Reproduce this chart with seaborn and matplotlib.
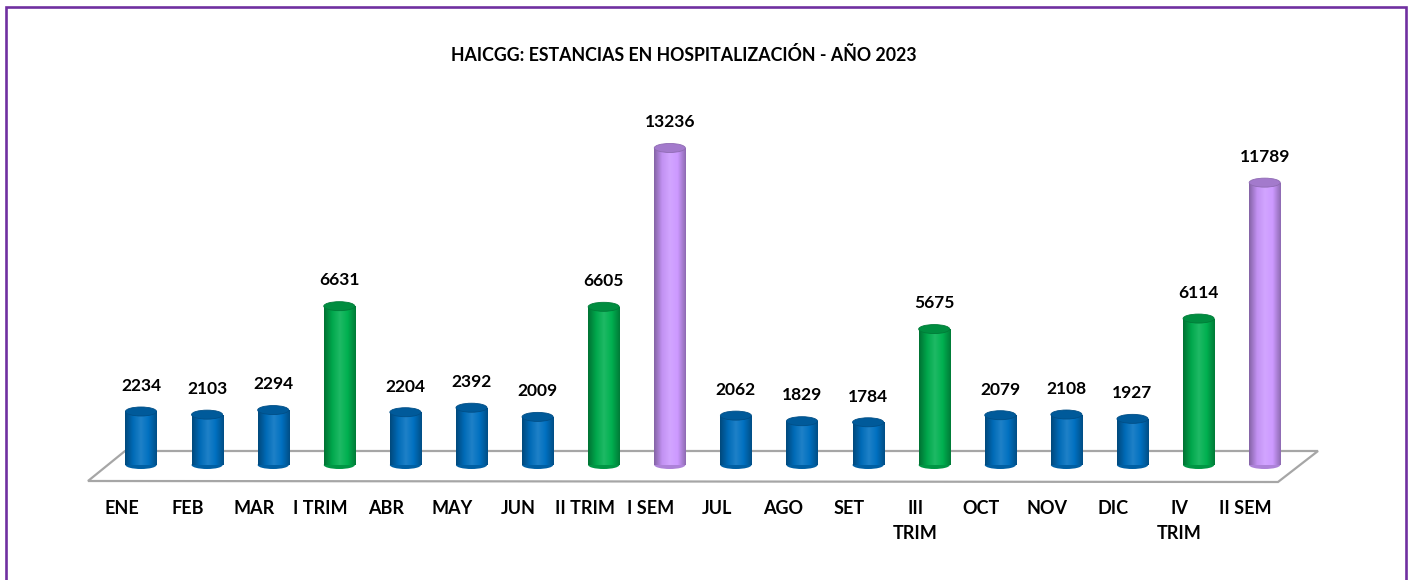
import numpy as np
import pandas as pd
import matplotlib
matplotlib.use("Agg")
import matplotlib.pyplot as plt
import seaborn as sns
from matplotlib.patches import Ellipse, Polygon, Rectangle
from matplotlib.colors import to_rgb, LinearSegmentedColormap
import matplotlib.transforms as mtrans

# ---- data ----
categories = ["ENE", "FEB", "MAR", "I TRIM", "ABR", "MAY", "JUN", "II TRIM", "I SEM",
              "JUL", "AGO", "SET", "III\nTRIM", "OCT", "NOV", "DIC", "IV\nTRIM", "II SEM"]
values = [2234, 2103, 2294, 6631, 2204, 2392, 2009, 6605, 13236,
          2062, 1829, 1784, 5675, 2079, 2108, 1927, 6114, 11789]
groups = ["mes", "mes", "mes", "trim", "mes", "mes", "mes", "trim", "sem",
          "mes", "mes", "mes", "trim", "mes", "mes", "mes", "trim", "sem"]
group_colors = {"mes": "#0070C0", "trim": "#00B050", "sem": "#CC99FF"}
title = "HAICGG: ESTANCIAS EN HOSPITALIZACIÓN - AÑO 2023"

df = pd.DataFrame({"cat": categories, "val": values, "grp": groups})

sns.set_theme(style="white")
plt.rcParams["font.family"] = ["Lato", "DejaVu Sans"]

W, H = 1413, 580
fig = plt.figure(figsize=(W / 100, H / 100), dpi=100)
ax = fig.add_axes([0, 0, 1, 1])

# pixel -> data mapping
x0_px, dx_px = 141.0, 66.1
y0_px, upp = 465.0, 41.75
XL = (-x0_px / dx_px, (W - x0_px) / dx_px)
YL = (-(H - y0_px) * upp, y0_px * upp)

def px2d(px, py):
    return ((px - x0_px) / dx_px, (y0_px - py) * upp)

# floor
floor_pts = [px2d(88, 481), px2d(125, 451), px2d(1318, 451), px2d(1278, 482)]
ax.add_patch(Polygon(floor_pts, closed=True, facecolor="white",
                     edgecolor="#A6A6A6", linewidth=1.6, zorder=1))

bw = 0.47
sns.barplot(data=df, x="cat", y="val", hue="grp", palette=group_colors,
            dodge=False, width=bw, legend=False, ax=ax, zorder=2,
            order=categories, linewidth=0)
ax.set_xlim(*XL)
ax.set_ylim(*YL)
ax.set_axis_off()

def mix(c, f):
    c = np.array(to_rgb(c))
    if f < 0:
        return tuple(c * (1 + f))
    return tuple(c + (1 - c) * f)

top_h = 9 * upp
bot_h = 8 * upp
for i, (v, g) in enumerate(zip(values, groups)):
    col = group_colors[g]
    cmap = LinearSegmentedColormap.from_list(
        "c", [mix(col, -0.35), mix(col, -0.05), mix(col, 0.12), mix(col, 0.0), mix(col, -0.3)])
    grad = np.linspace(0, 1, 64).reshape(1, -1)
    im = ax.imshow(grad, cmap=cmap, aspect="auto",
                   extent=(i - bw / 2, i + bw / 2, 0, v), zorder=3)
    clip = Rectangle((i - bw / 2, 0), bw, v, transform=ax.transData)
    im.set_clip_path(clip)
    ax.add_patch(Ellipse((i, 0), bw, bot_h, facecolor=mix(col, -0.15),
                         edgecolor="none", zorder=2.5))
    ax.add_patch(Ellipse((i, v), bw, top_h, facecolor=mix(col, -0.2),
                         edgecolor=mix(col, -0.3), linewidth=0.6, zorder=4))
    ax.annotate(f"{v}", (i, v), xytext=(0, 18.5), textcoords="offset points",
                ha="center", va="center", fontsize=12.5, fontweight="bold",
                color="black", zorder=5)

ax.set_xlim(*XL)
ax.set_ylim(*YL)

# category labels (shifted left, aligned to the front edge of the floor)
shift = -19 / dx_px
trans = mtrans.blended_transform_factory(ax.transData, ax.transAxes)
for i, c in enumerate(categories):
    ax.text(i + shift, 1 - 500 / H, c, transform=trans, ha="center", va="top",
            fontsize=13, fontweight="bold", color="black", linespacing=1.6)

# title
fig.text(684 / W, 1 - 55 / H, title, ha="center", va="center",
         fontsize=12.8, fontweight="bold", color="black")

# border
fig.patches.append(Rectangle((5.5 / W, -0.05), 1400 / W, 1 - 6.7 / H + 0.05,
                             transform=fig.transFigure, fill=False,
                             edgecolor="#7030A0", linewidth=1.9))

fig.savefig("out.png", dpi=100)
